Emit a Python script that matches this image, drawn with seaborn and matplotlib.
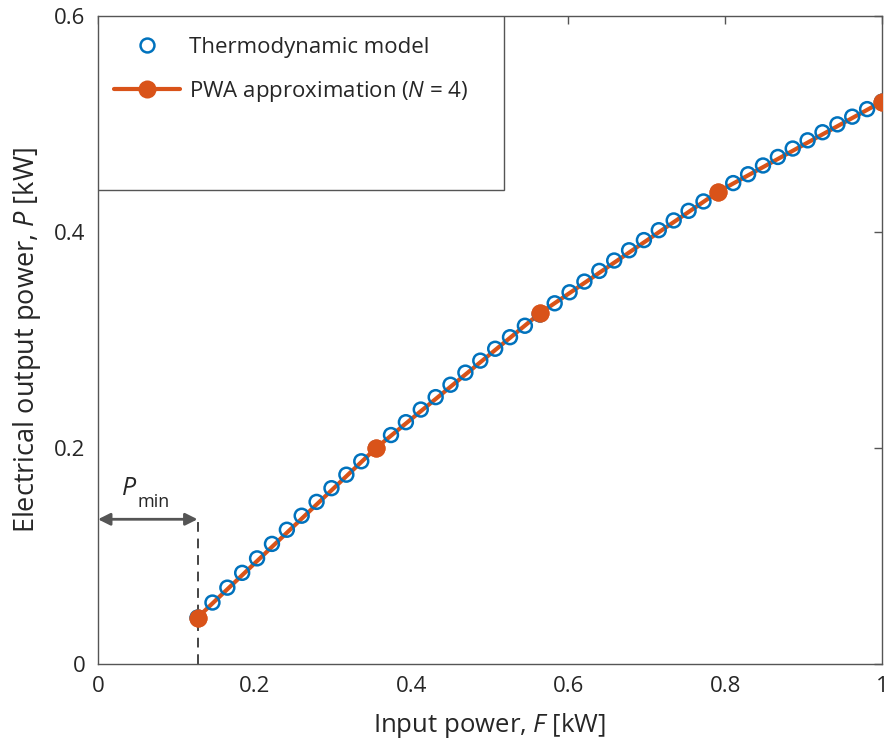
import numpy as np
import pandas as pd
import matplotlib
matplotlib.use("Agg")
import matplotlib.pyplot as plt
from matplotlib.patches import Rectangle
from matplotlib.lines import Line2D
import seaborn as sns

# Thermodynamic model samples (F in kW, P in kW)
F_model = [0.1270, 0.1460, 0.1650, 0.1839, 0.2029, 0.2219, 0.2409, 0.2598, 0.2788, 0.2978,
           0.3168, 0.3358, 0.3547, 0.3737, 0.3927, 0.4117, 0.4307, 0.4496, 0.4686, 0.4876,
           0.5066, 0.5255, 0.5445, 0.5635, 0.5825, 0.6015, 0.6204, 0.6394, 0.6584, 0.6774,
           0.6963, 0.7153, 0.7343, 0.7533, 0.7723, 0.7912, 0.8102, 0.8292, 0.8482, 0.8672,
           0.8861, 0.9051, 0.9241, 0.9431, 0.9620, 0.9810, 1.0000]
P_model = [0.0430, 0.0569, 0.0707, 0.0844, 0.0978, 0.1112, 0.1243, 0.1373, 0.1501, 0.1628,
           0.1753, 0.1877, 0.1999, 0.2120, 0.2239, 0.2356, 0.2471, 0.2586, 0.2698, 0.2809,
           0.2919, 0.3026, 0.3132, 0.3237, 0.3340, 0.3442, 0.3541, 0.3640, 0.3736, 0.3831,
           0.3925, 0.4017, 0.4107, 0.4196, 0.4283, 0.4369, 0.4453, 0.4535, 0.4616, 0.4695,
           0.4773, 0.4849, 0.4924, 0.4997, 0.5068, 0.5138, 0.5206]

# PWA approximation breakpoints (N = 4)
F_pwa = [0.1270, 0.3547, 0.5635, 0.7912, 1.0000]
P_pwa = [0.0430, 0.2000, 0.3247, 0.4373, 0.5207]

F_min = 0.127
P_arrow = 0.134

x_ticks = [0, 0.2, 0.4, 0.6, 0.8, 1]
x_ticklabels = ["0", "0.2", "0.4", "0.6", "0.8", "1"]
y_ticks = [0, 0.2, 0.4, 0.6]
y_ticklabels = ["0", "0.2", "0.4", "0.6"]

label_model = "Thermodynamic model"
label_pwa = "PWA approximation ($N$ = 4)"

BLUE = "#0072BD"
ORANGE = "#D95319"
AXC = "#555555"
TXT = "#262626"

sns.set_style("white")
plt.rcParams["font.family"] = ["Open Sans", "DejaVu Sans"]
plt.rcParams["mathtext.fontset"] = "custom"
plt.rcParams["mathtext.rm"] = "Open Sans"
plt.rcParams["mathtext.it"] = "Open Sans:italic"

fig = plt.figure(figsize=(8.86, 7.49), dpi=100)
ax = fig.add_axes([0.1106, 0.1135, 0.8849, 0.8651])

df_model = pd.DataFrame({"F": F_model, "P": P_model})
df_pwa = pd.DataFrame({"F": F_pwa, "P": P_pwa})

sns.lineplot(data=df_pwa, x="F", y="P", ax=ax, color=ORANGE, lw=3.0,
             marker="o", markersize=13, markeredgecolor=ORANGE, markerfacecolor=ORANGE,
             markeredgewidth=0)
ax.lines[-1].set_zorder(2)
sns.scatterplot(data=df_model, x="F", y="P", ax=ax, marker="o", s=100,
                facecolor="none", edgecolor=BLUE, linewidth=1.8, zorder=3)
# PWA breakpoints drawn on top of the model circles
sns.scatterplot(data=df_pwa, x="F", y="P", ax=ax, marker="o", s=170,
                color=ORANGE, edgecolor=ORANGE, linewidth=0, zorder=4)

# P_min annotation
ax.plot([F_min, F_min], [0, P_arrow], ls=(0, (5, 3.5)), color="#444444", lw=1.4, zorder=1)
ax.annotate("", xy=(0, P_arrow), xytext=(F_min, P_arrow),
            arrowprops=dict(arrowstyle="<|-|>", color="#555555", lw=2.0,
                            mutation_scale=18, shrinkA=0, shrinkB=0))
ax.text(0.030, 0.1565, "P", fontsize=18, style="italic", color=TXT,
        ha="left", va="baseline")
ax.text(0.0505, 0.1452, "min", fontsize=13, color=TXT, ha="left", va="baseline")

ax.set_xlim(0, 1)
ax.set_ylim(0, 0.6)
ax.set_xticks(x_ticks)
ax.set_xticklabels(x_ticklabels)
ax.set_yticks(y_ticks)
ax.set_yticklabels(y_ticklabels)
ax.tick_params(direction="in", length=6, width=1, colors=AXC, labelcolor=TXT,
               labelsize=16, top=True, right=True, pad=9)
for s in ax.spines.values():
    s.set_color(AXC)
    s.set_linewidth(1.0)
    s.set_visible(True)

ax.set_xlabel("Input power, $F$ [kW]", fontsize=18.5, color=TXT, labelpad=10)
ax.set_ylabel("Electrical output power, $P$ [kW]", fontsize=19.5, color=TXT, labelpad=8)

# legend box (MATLAB-style)
ax.add_patch(Rectangle((0, 0.7315), 0.518, 0.2685, transform=ax.transAxes,
                       facecolor="white", edgecolor=AXC, lw=1.0, zorder=5))
handles = [Line2D([], [], ls="none", marker="o", markersize=10, markerfacecolor="none",
                  markeredgecolor=BLUE, markeredgewidth=1.8),
           Line2D([], [], color=ORANGE, lw=3.0, marker="o", markersize=13,
                  markerfacecolor=ORANGE, markeredgewidth=0)]
leg = ax.legend(handles, [label_model, label_pwa], loc="upper left",
                bbox_to_anchor=(-0.004, 0.997), frameon=False, fontsize=16,
                handlelength=3.0, handletextpad=0.4, labelspacing=0.95, borderpad=0.55,
                borderaxespad=0.3)
leg.set_zorder(6)
for t in leg.get_texts():
    t.set_color(TXT)

fig.savefig("out.png", dpi=100)
